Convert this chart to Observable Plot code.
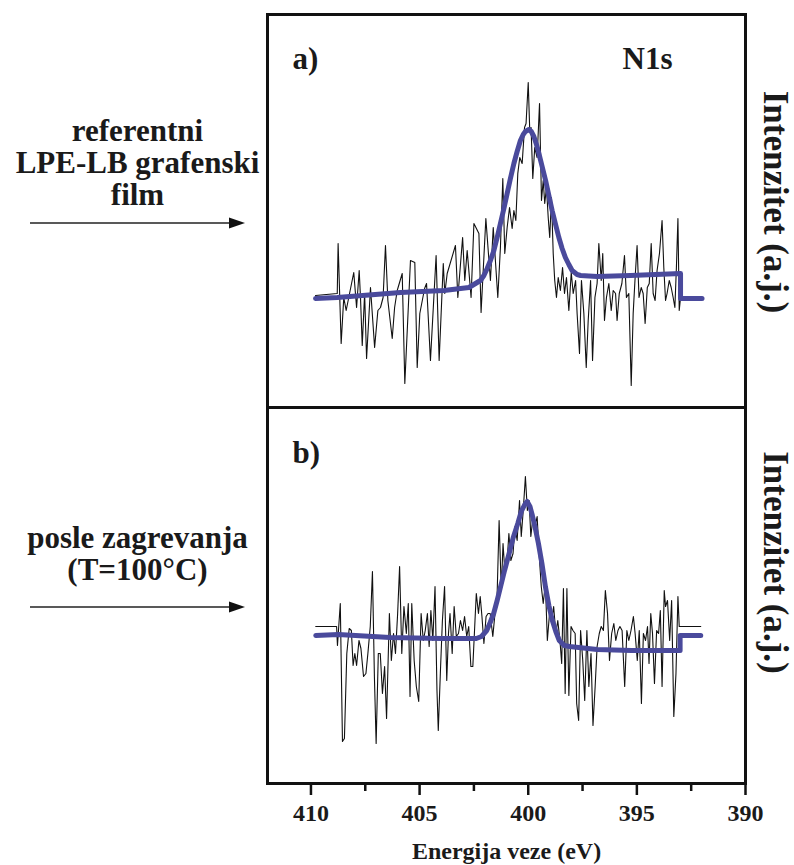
<!DOCTYPE html>
<html>
<head>
<meta charset="utf-8">
<script src="https://cdn.jsdelivr.net/npm/d3@7"></script>
<script src="https://cdn.jsdelivr.net/npm/@observablehq/plot@0.6"></script>
<style>
  body { margin: 0; background: #fff; }
  #fig { position: relative; width: 794px; height: 865px; overflow: hidden; background: #fff; }
  #fig svg { position: absolute; left: 0; }
  #fig svg text { font-family: "Liberation Serif", "DejaVu Serif", "Tinos", "Times New Roman", "Noto Serif", serif !important; font-weight: bold; }
</style>
</head>
<body>
<div id="fig"></div>
<script>
// N1s XPS spectra: binding energy (eV) vs intensity (arbitrary units)

// a) reference LPE-LB graphene film: measured spectrum [eV, intensity]
const spectrumA = [
  [409.79,112],[408.79,114],[408.75,164],[408.61,64],[408.49,110],[408.38,97],[408.26,110],[408.03,135],
  [407.90,100],[407.78,137],[407.72,110],[407.64,62],[407.53,114],[407.44,49],[407.26,120],[407.07,60],
  [406.92,97],[406.80,100],[406.68,110],[406.57,162],[406.46,107],[406.26,69],[406.15,100],[406.03,117],
  [405.80,134],[405.68,24],[405.42,147],[405.22,145],[405.11,40],[404.99,94],[404.77,119],[404.68,124],
  [404.50,47],[404.24,152],[404.10,47],[403.91,144],[403.84,114],[403.73,134],[403.35,162],[403.24,110],
  [403.02,170],[402.92,127],[402.81,157],[402.63,110],[402.50,184],[402.27,174],[402.17,95],[401.95,189],
  [401.74,127],[401.61,180],[401.40,110],[401.28,160],[401.17,229],[401.08,154],[400.97,180],[400.86,200],
  [400.74,179],[400.66,197],[400.57,187],[400.48,234],[400.39,250],[400.28,244],[400.17,280],[400.10,284],
  [400.00,325],[399.93,277],[399.87,280],[399.79,229],[399.70,260],[399.59,250],[399.48,304],[399.39,207],
  [399.31,227],[399.24,204],[399.16,220],[399.08,190],[399.01,170],[398.93,210],[398.85,154],[398.78,127],
  [398.70,110],[398.62,130],[398.52,117],[398.42,140],[398.33,114],[398.24,130],[398.13,97],[398.02,135],
  [397.93,114],[397.82,127],[397.75,94],[397.64,54],[397.55,127],[397.44,94],[397.33,40],[397.24,87],
  [397.13,127],[397.04,47],[396.93,110],[396.83,124],[396.75,164],[396.64,127],[396.57,154],[396.49,87],
  [396.40,110],[396.29,124],[396.18,97],[396.09,117],[395.98,114],[395.91,87],[395.81,114],[395.69,124],
  [395.57,152],[395.48,110],[395.37,114],[395.26,22],[395.17,94],[395.08,130],[394.99,162],[394.90,110],
  [394.80,120],[394.71,114],[394.62,84],[394.52,120],[394.43,124],[394.34,164],[394.25,114],[394.16,107],
  [394.07,137],[393.96,154],[393.84,187],[393.76,140],[393.68,107],[393.61,114],[393.51,127],[393.42,120],
  [393.33,110],[393.25,100],[393.18,140],[393.11,189],[393.05,97],[392.99,110],[392.00,110]
];

// a) fitted N1s component with background [eV, intensity]
const fitA = [
  [409.79,109],[408.79,110],[405.88,115],[403.88,117],[402.73,120],[402.20,127],[402.04,132],[401.89,139],
  [401.74,147],[401.58,157],[401.43,170],[401.28,184],[401.12,199],[400.97,214],[400.82,229],[400.66,244],
  [400.51,256],[400.36,267],[400.23,273],[400.13,276],[399.97,278],[399.86,276],[399.74,271],[399.62,263],
  [399.51,254],[399.36,241],[399.20,227],[399.05,212],[398.90,197],[398.74,183],[398.59,170],[398.44,159],
  [398.29,150],[398.13,143],[397.98,137],[397.75,133],[397.59,132],[396.83,131],[395.29,132],[392.99,134],
  [392.99,109],[392.00,109]
];

// b) after heating (T = 100 °C): measured spectrum [eV, intensity]
const spectrumB = [
  [409.78,157],[408.82,157],[408.78,138],[408.65,180],[408.55,42],[408.46,45],[408.35,130],[408.24,155],
  [408.14,153],[408.06,118],[407.98,130],[407.90,118],[407.79,143],[407.70,135],[407.58,107],[407.47,110],
  [407.38,130],[407.27,157],[407.17,212],[407.08,107],[407.00,40],[406.90,130],[406.81,130],[406.71,90],
  [406.61,117],[406.52,65],[406.39,170],[406.30,123],[406.20,150],[406.11,130],[406.01,170],[405.92,217],
  [405.82,130],[405.72,177],[405.61,150],[405.52,180],[405.44,87],[405.36,180],[405.25,123],[405.15,97],
  [405.04,82],[404.93,170],[404.83,143],[404.74,153],[404.64,170],[404.56,137],[404.48,173],[404.39,143],
  [404.29,197],[404.20,93],[404.14,53],[404.04,113],[403.95,163],[403.85,197],[403.75,103],[403.67,150],
  [403.60,170],[403.50,130],[403.41,177],[403.31,147],[403.21,150],[403.12,163],[403.02,153],[402.93,167],
  [402.83,147],[402.74,157],[402.64,117],[402.55,117],[402.45,163],[402.39,190],[402.29,170],[402.21,187],
  [402.13,167],[402.04,140],[401.94,167],[401.85,170],[401.75,170],[401.63,147],[401.53,170],[401.43,190],
  [401.34,263],[401.24,193],[401.16,240],[401.07,210],[400.97,223],[400.89,250],[400.80,223],[400.70,230],
  [400.61,257],[400.51,243],[400.40,283],[400.32,247],[400.23,273],[400.13,307],[400.04,273],[399.96,283],
  [399.88,247],[399.78,267],[399.69,257],[399.59,267],[399.50,230],[399.40,197],[399.31,180],[399.21,200],
  [399.12,143],[399.02,170],[398.92,163],[398.83,177],[398.73,150],[398.64,163],[398.54,143],[398.46,120],
  [398.38,195],[398.30,90],[398.22,195],[398.13,88],[398.03,157],[397.94,153],[397.84,150],[397.77,80],
  [397.68,63],[397.59,153],[397.49,123],[397.40,83],[397.30,153],[397.21,97],[397.11,130],[397.02,58],
  [396.92,97],[396.83,137],[396.73,150],[396.64,157],[396.54,153],[396.45,193],[396.35,170],[396.26,123],
  [396.16,150],[396.06,160],[395.97,143],[395.87,153],[395.78,157],[395.68,153],[395.56,97],[395.46,153],
  [395.37,143],[395.27,153],[395.16,167],[395.08,150],[394.98,123],[394.89,153],[394.79,80],[394.70,150],
  [394.60,143],[394.51,157],[394.44,120],[394.36,170],[394.28,150],[394.19,100],[394.09,153],[394.00,150],
  [393.92,173],[393.84,97],[393.74,193],[393.68,177],[393.59,183],[393.49,143],[393.40,183],[393.30,67],
  [393.20,110],[393.11,187],[393.05,157],[392.06,157]
];

// b) fitted N1s component with background [eV, intensity]
const fitB = [
  [409.78,148],[408.74,149],[406.36,146],[403.98,145],[402.39,145],[402.15,147],[401.91,153],[401.75,161],
  [401.59,170],[401.43,183],[401.27,197],[401.09,213],[400.88,230],[400.69,246],[400.48,260],[400.32,272],
  [400.16,279],[400.05,282],[399.92,277],[399.81,268],[399.69,257],[399.53,240],[399.37,220],[399.21,197],
  [399.05,178],[398.89,163],[398.73,152],[398.57,143],[398.34,138],[398.10,137],[396.83,134],[395.24,133],
  [393.01,133],[393.01,148],[392.06,148]
];

// axis ticks and texts
const majorTicks = [410, 405, 400, 395, 390];
const minorTicks = [407.5, 402.5, 397.5, 392.5];
const xLabel = "Energija veze (eV)";
const yLabel = "Intenzitet (a.j.)";
const noteA = ["referentni", "LPE-LB grafenski", "film"];
const noteB = ["posle zagrevanja", "(T=100\u00B0C)"];

const FIT_COLOR = "#4a4a9c";
const FONT = "Liberation Serif, DejaVu Serif, serif";

const rows = (pairs) => pairs.map(([e, v]) => ({e, v}));

// right-pointing annotation arrow, drawn relative to the frame's left edge
const sideArrow = (offsetY) => (index, scales, values, dims) => {
  const y = dims.marginTop + offsetY;
  const x1 = dims.marginLeft - 237, x2 = dims.marginLeft - 22;
  const g = d3.create("svg:g");
  g.append("line").attr("x1", x1).attr("x2", x2 - 10).attr("y1", y).attr("y2", y)
    .attr("stroke", "#222").attr("stroke-width", 1.6);
  g.append("path").attr("d", `M${x2},${y}L${x2 - 16},${y - 5.5}L${x2 - 16},${y + 5.5}Z`).attr("fill", "#111");
  return g.node();
};

const textStyle = {fontFamily: FONT, fontWeight: "bold", fill: "#1a1a1a"};

function panel({spectrum, fit, yMax, top, height, marginTop, marginBottom, tag, tagY, note, noteY, arrowY, yLabelDy, withAxis}) {
  const marks = [
    Plot.line(rows(spectrum), {x: "e", y: "v", stroke: "#111", strokeWidth: 1.1}),
    Plot.line(rows(fit), {x: "e", y: "v", stroke: FIT_COLOR, strokeWidth: 5, strokeLinecap: "round", strokeLinejoin: "round"}),
    Plot.frame({stroke: "#111", strokeWidth: 3}),
    Plot.text([tag], {frameAnchor: "top-left", dx: 25, dy: tagY, lineAnchor: "bottom", textAnchor: "start", fontSize: 31, ...textStyle}),
    ...note.map((t, i) => Plot.text([t], {frameAnchor: "top-left", dx: -130, dy: noteY + i * 32, lineAnchor: "bottom", textAnchor: "middle", fontSize: 31, ...textStyle})),
    sideArrow(arrowY),
    Plot.text([yLabel], {frameAnchor: "right", dx: 30, dy: yLabelDy, rotate: 90, textAnchor: "middle", lineAnchor: "middle", fontSize: 35, ...textStyle})
  ];
  if (tag === "a)") {
    marks.push(Plot.text(["N1s"], {frameAnchor: "top-right", dx: -73, dy: tagY, lineAnchor: "bottom", textAnchor: "end", fontSize: 31, ...textStyle}));
  }
  if (withAxis) {
    marks.push(
      Plot.axisX(majorTicks, {tickSize: 12, tickPadding: 8, strokeWidth: 2.5, stroke: "#111", fontSize: 24, fontWeight: "bold", fill: "#1a1a1a", fontFamily: FONT, label: null}),
      Plot.axisX(minorTicks, {tickSize: 8, strokeWidth: 2.5, stroke: "#111", tickFormat: () => "", label: null}),
      Plot.text([xLabel], {frameAnchor: "bottom", dy: 75, lineAnchor: "bottom", textAnchor: "middle", fontSize: 24, ...textStyle})
    );
  }
  const svg = Plot.plot({
    width: 794,
    height,
    marginLeft: 267,
    marginRight: 49,
    marginTop,
    marginBottom,
    x: {domain: [412, 390], axis: null},
    y: {domain: [0, yMax], axis: null},
    style: {background: "transparent", overflow: "visible", fontFamily: FONT},
    marks
  });
  svg.style.top = `${top}px`;
  document.getElementById("fig").append(svg);
}

panel({spectrum: spectrumA, fit: fitA, yMax: 393, top: 0, height: 409, marginTop: 14, marginBottom: 2,
  tag: "a)", tagY: 54, note: noteA, noteY: 126, arrowY: 209, yLabelDy: -9, withAxis: false});
panel({spectrum: spectrumB, fit: fitB, yMax: 376, top: 405, height: 460, marginTop: 2, marginBottom: 82,
  tag: "b)", tagY: 55, note: noteB, noteY: 140, arrowY: 200, yLabelDy: -33, withAxis: true});
</script>
</body>
</html>
